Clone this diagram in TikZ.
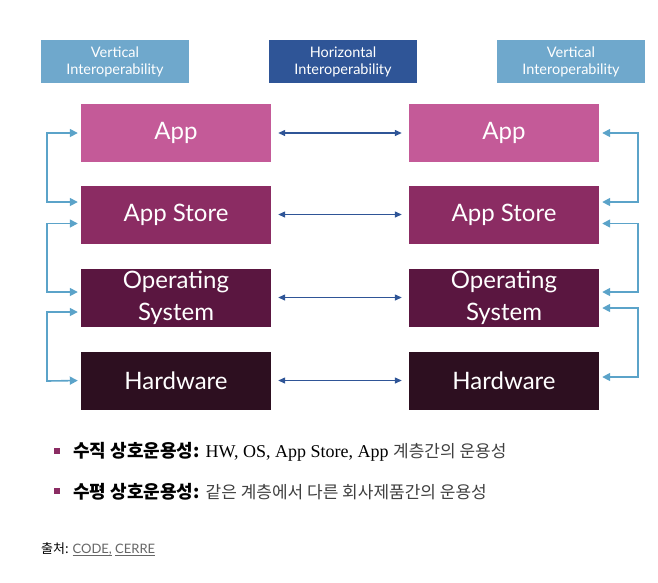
\documentclass[tikz,border=0pt]{standalone}
\usepackage{fontspec}
\setmainfont{Lato}
\newfontfamily\kr{Noto Sans CJK KR}
\newfontfamily\serif{Liberation Serif}
\usetikzlibrary{arrows.meta}
\definecolor{appc}{HTML}{C45A98}
\definecolor{storec}{HTML}{8B2C63}
\definecolor{osc}{HTML}{5A1640}
\definecolor{hwc}{HTML}{2D0F20}
\definecolor{vertc}{HTML}{6FA8CC}
\definecolor{horc}{HTML}{2F5597}
\definecolor{varrow}{HTML}{5BA3C9}
\tikzset{
    layer/.style={minimum width=190pt,minimum height=58pt,text=white,font=\fontsize{24}{24}\selectfont,align=center,inner sep=0pt},
    head/.style={minimum width=148pt,minimum height=43pt,text=white,font=\fontsize{14.5}{17}\selectfont,align=center,inner sep=0pt},
    varr/.style={draw=varrow,line width=1.6pt,{Triangle[length=8pt,width=8pt]}-{Triangle[length=8pt,width=8pt]},shorten <=3pt,shorten >=3pt},
    harr/.style={draw=horc,line width=1.3pt,{Triangle[length=7pt,width=6pt]}-{Triangle[length=7pt,width=6pt]}},
}
\begin{document}
\begin{tikzpicture}[x=1pt,y=-1pt]
\useasboundingbox (0,0) rectangle (658,582);
% headers
\node[head,fill=vertc] (hl) at (115,61.5) {Vertical\\Interoperability};
\node[head,fill=horc] (hm) at (343,61.5) {Horizontal\\Interoperability};
\node[head,fill=vertc] (hr) at (571,61.5) {Vertical\\Interoperability};
% layers
\foreach \side/\x in {l/176,r/504}{
  \node[layer,fill=appc] (app\side) at (\x,133) {App};
  \node[layer,fill=storec] (store\side) at (\x,214.5) {App Store};
  \node[layer,fill=osc,font=\fontsize{24}{32}\selectfont] (os\side) at (\x,297.5) {Operating\\System};
  \node[layer,fill=hwc] (hw\side) at (\x,380.5) {Hardware};
}
% horizontal
\draw[harr] ([xshift=7pt]appl.east) -- ([xshift=-7pt]appr.west);
\draw[harr] ([xshift=7pt]storel.east) -- ([xshift=-7pt]storer.west);
\draw[harr] ([xshift=7pt]osl.east) -- ([xshift=-7pt]osr.west);
\draw[harr] ([xshift=7pt]hwl.east) -- ([xshift=-7pt]hwr.west);
% vertical left
\draw[varr] (appl.west) -- (47,133) -- (47,202) -- ([yshift=12.5pt]storel.west);
\draw[varr] ([yshift=-9pt]storel.west) -- (47,223.5) -- (47,292) -- ([yshift=5.5pt]osl.west);
\draw[varr] ([yshift=-14.5pt]osl.west) -- (47,312) -- (47,381) -- (hwl.west);
% vertical right
\draw[varr] (appr.east) -- (638,133) -- (638,202) -- ([yshift=12.5pt]storer.east);
\draw[varr] ([yshift=-9pt]storer.east) -- (638,223.5) -- (638,292) -- ([yshift=5.5pt]osr.east);
\draw[varr] ([yshift=-10.5pt]osr.east) -- (638,308) -- (638,377) -- ([yshift=3.5pt]hwr.east);
% notes
\fill[storec] (54,448) rectangle (60,454);
\fill[storec] (54,488) rectangle (60,494);
\node[anchor=west,inner sep=0pt,font=\fontsize{18}{18}\selectfont] (n1) at (73,452) {{\kr\bfseries 수직 상호운용성:} {\serif HW, OS, App Store, App} {\kr\fontsize{17}{17}\selectfont\color{black!75}계층간의 운용성}};
\node[anchor=west,inner sep=0pt,font=\fontsize{18}{18}\selectfont] (n2) at (73,492) {{\kr\bfseries 수평 상호운용성:} {\kr\fontsize{17}{17}\selectfont\color{black!75}같은 계층에서 다른 회사제품간의 운용성}};
\node[anchor=west,inner sep=0pt,font=\kr\fontsize{13}{13}\selectfont] (src) at (41,549) {출처: {\color{black!60}\fontspec{Lato}\underbar{CODE,} \underbar{CERRE}}};
\end{tikzpicture}
\end{document}
